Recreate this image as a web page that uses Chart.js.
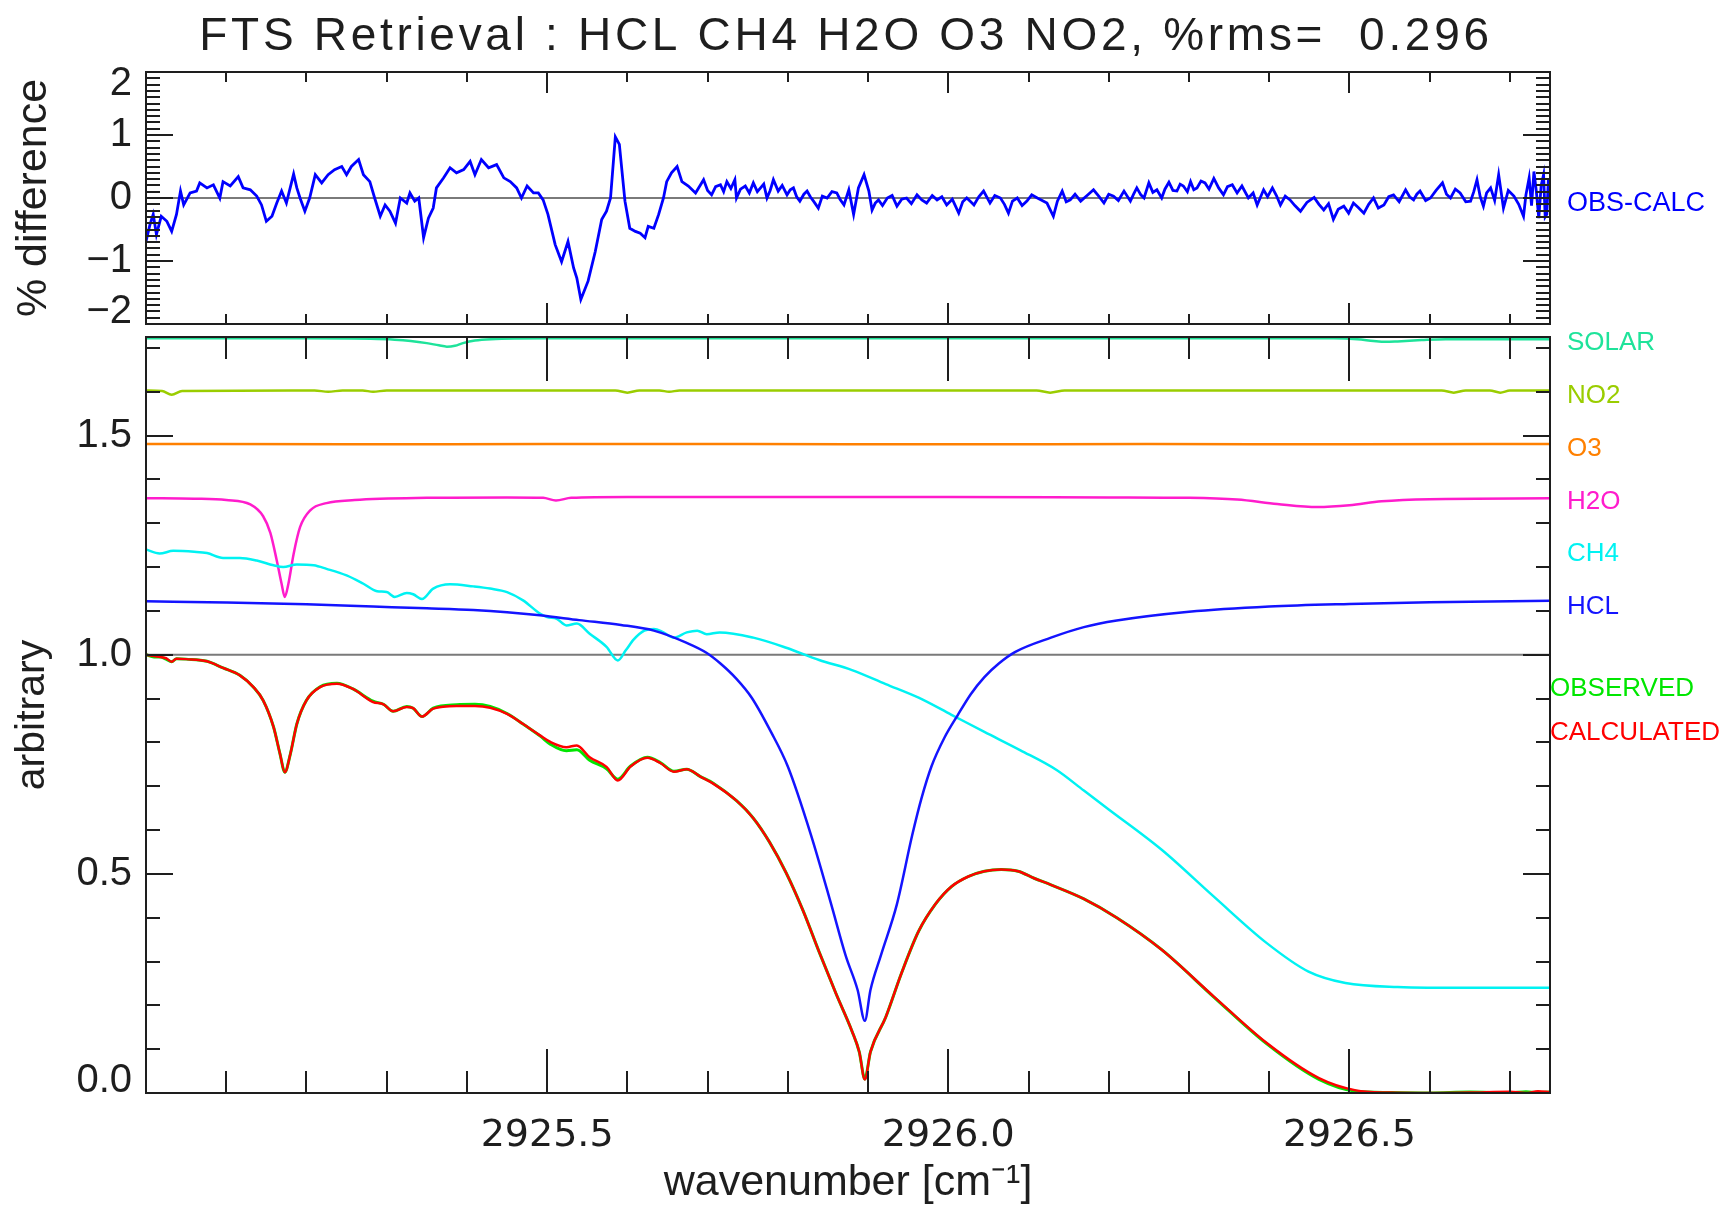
<!DOCTYPE html>
<html>
<head>
<meta charset="utf-8">
<title>FTS Retrieval</title>
<script src="https://cdn.jsdelivr.net/npm/chart.js"></script>
<style>
  html, body { margin: 0; padding: 0; background: #fff; }
  body { width: 1721px; height: 1210px; position: relative; overflow: hidden; }
  canvas { position: absolute; left: 0; }
  #diffChart { top: 0; }
  #specChart { top: 330px; }
</style>
</head>
<body>
<canvas id="diffChart" width="1721" height="350"></canvas>
<canvas id="specChart" width="1721" height="880"></canvas>
<script>
// axis limits and tick labels
const wnMin = 2925.0, wnMax = 2926.75;
const wnTicks = [2925.5, 2926.0, 2926.5];
const diffTicks = [-2, -1, 0, 1, 2];
const arbTicks = [0.0, 0.5, 1.0, 1.5];

// reference lines
const refWn = [2925.0, 2926.75];
const diffRef = [0, 0];
const specRef = [1, 1];

// OBS-CALC residual (%)
const diffWn = [
  2925.000, 2925.005, 2925.009, 2925.013, 2925.019, 2925.026, 2925.032, 2925.038, 2925.043, 2925.047,
  2925.055, 2925.063, 2925.067, 2925.076, 2925.084, 2925.092, 2925.096, 2925.105, 2925.115, 2925.121,
  2925.130, 2925.138, 2925.144, 2925.150, 2925.157, 2925.163, 2925.169, 2925.175, 2925.184, 2925.188,
  2925.192, 2925.198, 2925.204, 2925.211, 2925.219, 2925.227, 2925.235, 2925.244, 2925.250, 2925.256,
  2925.265, 2925.271, 2925.279, 2925.285, 2925.292, 2925.298, 2925.304, 2925.311, 2925.317, 2925.325,
  2925.329, 2925.335, 2925.340, 2925.346, 2925.352, 2925.358, 2925.362, 2925.371, 2925.379, 2925.387,
  2925.396, 2925.404, 2925.410, 2925.418, 2925.427, 2925.437, 2925.446, 2925.454, 2925.462, 2925.468,
  2925.475, 2925.483, 2925.489, 2925.495, 2925.501, 2925.510, 2925.518, 2925.526, 2925.533, 2925.537,
  2925.542, 2925.551, 2925.560, 2925.568, 2925.574, 2925.579, 2925.585, 2925.590, 2925.597, 2925.603,
  2925.610, 2925.616, 2925.622, 2925.626, 2925.633, 2925.639, 2925.645, 2925.649, 2925.655, 2925.662,
  2925.668, 2925.676, 2925.685,
  2925.695, 2925.700, 2925.705, 2925.710, 2925.716, 2925.720, 2925.724, 2925.729, 2925.734, 2925.736,
  2925.741, 2925.747, 2925.752, 2925.757, 2925.762, 2925.766, 2925.770, 2925.774, 2925.778, 2925.782,
  2925.788, 2925.793, 2925.799, 2925.803, 2925.807, 2925.811, 2925.815, 2925.820, 2925.824, 2925.828,
  2925.832, 2925.838, 2925.843, 2925.849, 2925.855, 2925.861, 2925.865, 2925.870, 2925.876, 2925.882,
  2925.888, 2925.895, 2925.901, 2925.905, 2925.909, 2925.913, 2925.918, 2925.924, 2925.930, 2925.936,
  2925.942, 2925.948, 2925.954, 2925.961, 2925.967, 2925.973, 2925.980, 2925.986, 2925.992, 2925.998,
  2926.005, 2926.013, 2926.018, 2926.023, 2926.028, 2926.032, 2926.038, 2926.044, 2926.052, 2926.058,
  2926.065, 2926.070, 2926.075, 2926.080, 2926.086, 2926.092, 2926.098, 2926.104, 2926.111, 2926.117,
  2926.123, 2926.131, 2926.136, 2926.142, 2926.147, 2926.152, 2926.158, 2926.165, 2926.173, 2926.181,
  2926.188, 2926.194, 2926.200, 2926.206, 2926.212, 2926.219, 2926.227, 2926.231, 2926.235, 2926.240,
  2926.244, 2926.250, 2926.255, 2926.260, 2926.266, 2926.270, 2926.275, 2926.280, 2926.285, 2926.289,
  2926.293, 2926.298, 2926.302, 2926.306, 2926.310, 2926.315, 2926.320, 2926.325, 2926.331, 2926.337,
  2926.343, 2926.348, 2926.354, 2926.360, 2926.366, 2926.374, 2926.380, 2926.385, 2926.393, 2926.398,
  2926.404, 2926.409, 2926.414, 2926.420, 2926.426, 2926.432, 2926.439, 2926.447, 2926.456, 2926.462,
  2926.468, 2926.474, 2926.480, 2926.486, 2926.493, 2926.499, 2926.505, 2926.511, 2926.518, 2926.524,
  2926.530, 2926.536, 2926.543, 2926.549, 2926.555, 2926.562, 2926.570, 2926.575, 2926.580, 2926.584,
  2926.588, 2926.595, 2926.601, 2926.608, 2926.616, 2926.621, 2926.626, 2926.632, 2926.638, 2926.645,
  2926.651, 2926.655, 2926.659, 2926.663, 2926.667, 2926.671, 2926.676, 2926.681, 2926.686, 2926.692,
  2926.698, 2926.705, 2926.711, 2926.717, 2926.720, 2926.724, 2926.727, 2926.730, 2926.733, 2926.736,
  2926.739, 2926.742, 2926.744, 2926.746, 2926.748, 2926.750
];
const diffVal = [
  -0.69, -0.42, -0.26, -0.58, -0.29, -0.37, -0.53, -0.26, 0.11, -0.11,
  0.08, 0.11, 0.24, 0.16, 0.21, 0.00, 0.26, 0.19, 0.34, 0.16,
  0.13, 0.03, -0.11, -0.37, -0.29, -0.08, 0.11, -0.08, 0.38, 0.16,
  0.00, -0.21, 0.00, 0.37, 0.24, 0.37, 0.45, 0.50, 0.37, 0.50,
  0.61, 0.37, 0.26, 0.00, -0.29, -0.11, -0.21, -0.40, 0.00, -0.08,
  0.08, -0.05, 0.00, -0.63, -0.32, -0.16, 0.16, 0.32, 0.48, 0.40,
  0.45, 0.58, 0.37, 0.61, 0.48, 0.53, 0.32, 0.26, 0.16, 0.00,
  0.19, 0.08, 0.08, -0.03, -0.26, -0.74, -1.01, -0.69, -1.11, -1.27,
  -1.61, -1.32, -0.85, -0.34, -0.21, 0.00, 0.97, 0.85, -0.05, -0.48,
  -0.53, -0.56, -0.63, -0.45, -0.48, -0.26, 0.00, 0.26, 0.40, 0.50,
  0.26, 0.19, 0.08,
  0.29, 0.12, 0.05, 0.18, 0.21, 0.10, 0.26, 0.15, 0.29, 0.00,
  0.14, 0.19, 0.08, 0.24, 0.10, 0.16, 0.22, 0.00, 0.12, 0.29,
  0.11, 0.20, 0.05, 0.13, 0.16, 0.02, -0.05, 0.06, 0.11, 0.02,
  -0.05, -0.16, 0.03, 0.00, 0.10, 0.08, -0.02, -0.11, 0.13, -0.26,
  0.16, 0.37, 0.11, -0.19, -0.08, -0.03, -0.12, 0.00, 0.04, -0.13,
  -0.02, 0.00, -0.09, 0.05, -0.03, -0.08, 0.04, -0.03, 0.02, -0.11,
  -0.02, -0.24, -0.06, 0.00, -0.06, -0.11, 0.02, 0.11, -0.08, 0.04,
  0.00, -0.10, -0.24, -0.05, 0.00, -0.12, -0.05, 0.05, 0.00, -0.04,
  -0.08, -0.29, -0.05, 0.11, -0.06, -0.03, 0.06, -0.05, 0.04, 0.13,
  0.02, -0.08, 0.06, 0.03, -0.04, 0.11, -0.05, 0.06, 0.16, 0.05,
  0.00, 0.24, 0.09, 0.13, 0.00, 0.14, 0.25, 0.12, 0.11, 0.22,
  0.19, 0.10, 0.26, 0.13, 0.16, 0.27, 0.24, 0.14, 0.31, 0.16,
  0.05, 0.18, 0.21, 0.08, 0.19, 0.00, 0.08, -0.11, 0.13, 0.02,
  0.16, 0.04, -0.11, 0.03, -0.03, -0.12, -0.21, -0.07, 0.01, -0.10,
  -0.19, -0.09, -0.34, -0.18, -0.13, -0.24, -0.08, -0.15, -0.24, -0.10,
  0.00, -0.16, -0.11, 0.02, 0.05, -0.06, 0.13, 0.02, -0.03, 0.06,
  0.11, -0.04, 0.00, 0.12, 0.24, 0.06, 0.00, 0.14, 0.08, -0.06,
  -0.05, 0.10, 0.29, 0.02, -0.13, 0.08, 0.16, -0.04, 0.37, -0.16,
  0.12, 0.03, -0.10, -0.29, 0.05, 0.32, -0.12, 0.42, 0.10, -0.32,
  0.20, 0.37, -0.30, -0.26, 0.30, 0.11
];

// component transmittances (offset for display)
const solarWn = [2925.000, 2925.100, 2925.200, 2925.280, 2925.310, 2925.330, 2925.350, 2925.365, 2925.375, 2925.385,
  2925.395, 2925.410, 2925.430, 2925.500, 2925.700, 2925.900, 2926.100, 2926.300, 2926.480, 2926.510,
  2926.530, 2926.545, 2926.560, 2926.590, 2926.620, 2926.750];
const solarVal = [1.722, 1.722, 1.722, 1.721, 1.719, 1.716, 1.711, 1.706, 1.703, 1.705,
  1.711, 1.717, 1.720, 1.722, 1.722, 1.722, 1.722, 1.722, 1.722, 1.720,
  1.716, 1.714, 1.715, 1.718, 1.720, 1.720];

const no2Wn = [2925.000, 2925.020, 2925.032, 2925.045, 2925.210, 2925.227, 2925.245, 2925.270, 2925.283, 2925.300,
  2925.585, 2925.600, 2925.615, 2925.640, 2925.652, 2925.665, 2926.110, 2926.127, 2926.145, 2926.615,
  2926.630, 2926.645, 2926.675, 2926.688, 2926.700, 2926.750];
const no2Val = [1.603, 1.602, 1.593, 1.602, 1.603, 1.600, 1.603, 1.603, 1.600, 1.603,
  1.603, 1.598, 1.603, 1.603, 1.600, 1.603, 1.603, 1.598, 1.603, 1.603,
  1.598, 1.603, 1.603, 1.598, 1.603, 1.603];

const o3Wn = [2925.00, 2925.25, 2925.50, 2925.75, 2926.00, 2926.25, 2926.50, 2926.75];
const o3Val = [1.481, 1.480, 1.481, 1.481, 1.480, 1.481, 1.480, 1.481];

const h2oWn = [2925.000, 2925.060, 2925.100, 2925.130, 2925.146, 2925.155, 2925.163, 2925.169, 2925.173, 2925.1775,
  2925.184, 2925.192, 2925.205, 2925.225, 2925.260, 2925.350, 2925.450, 2925.495, 2925.511, 2925.530,
  2925.600, 2925.800, 2926.000, 2926.200, 2926.300, 2926.360, 2926.410, 2926.460, 2926.500, 2926.540,
  2926.600, 2926.750];
const h2oVal = [1.357, 1.356, 1.353, 1.343, 1.316, 1.278, 1.215, 1.162, 1.132, 1.162,
  1.230, 1.291, 1.330, 1.346, 1.353, 1.358, 1.359, 1.358, 1.352, 1.358,
  1.360, 1.360, 1.360, 1.359, 1.358, 1.354, 1.344, 1.337, 1.341, 1.350,
  1.355, 1.357];

const ch4Wn = [2925.000, 2925.017, 2925.034, 2925.060, 2925.076, 2925.096, 2925.117, 2925.138, 2925.159, 2925.171,
  2925.188, 2925.209, 2925.225, 2925.250, 2925.271, 2925.288, 2925.300, 2925.310, 2925.325, 2925.333,
  2925.344, 2925.358, 2925.379, 2925.408, 2925.429, 2925.450, 2925.470, 2925.491, 2925.500, 2925.512,
  2925.524, 2925.537, 2925.553, 2925.574, 2925.588, 2925.598, 2925.608, 2925.621, 2925.633, 2925.645,
  2925.658, 2925.674, 2925.687, 2925.699, 2925.715, 2925.757, 2925.798, 2925.839, 2925.880, 2925.922,
  2925.963, 2926.004, 2926.045, 2926.090, 2926.135, 2926.169, 2926.200, 2926.266, 2926.331, 2926.397,
  2926.449, 2926.495, 2926.560, 2926.650, 2926.750];
const ch4Val = [1.240, 1.231, 1.237, 1.235, 1.232, 1.221, 1.221, 1.215, 1.204, 1.200,
  1.206, 1.204, 1.196, 1.181, 1.162, 1.145, 1.143, 1.132, 1.141, 1.138,
  1.127, 1.151, 1.161, 1.156, 1.151, 1.143, 1.124, 1.094, 1.086, 1.082,
  1.067, 1.071, 1.048, 1.018, 0.987, 1.010, 1.035, 1.055, 1.059, 1.051,
  1.039, 1.051, 1.055, 1.047, 1.051, 1.039, 1.016, 0.988, 0.965, 0.933,
  0.902, 0.863, 0.824, 0.782, 0.737, 0.690, 0.647, 0.555, 0.448, 0.342,
  0.277, 0.251, 0.242, 0.240, 0.240];

const hclWn = [2925.000, 2925.100, 2925.200, 2925.283, 2925.350, 2925.408, 2925.450, 2925.491, 2925.540, 2925.592,
  2925.633, 2925.674, 2925.699, 2925.716, 2925.736, 2925.755, 2925.779, 2925.800, 2925.829, 2925.854,
  2925.872, 2925.887, 2925.896, 2925.903, 2925.916, 2925.936, 2925.955, 2925.967, 2925.979, 2925.995,
  2926.012, 2926.028, 2926.045, 2926.063, 2926.083, 2926.128, 2926.169, 2926.210, 2926.300, 2926.400,
  2926.500, 2926.600, 2926.750];
const hclVal = [1.122, 1.119, 1.115, 1.110, 1.106, 1.102, 1.097, 1.090, 1.079, 1.068,
  1.055, 1.027, 1.004, 0.980, 0.945, 0.902, 0.824, 0.745, 0.588, 0.431,
  0.314, 0.235, 0.165, 0.235, 0.314, 0.431, 0.588, 0.675, 0.745, 0.810,
  0.863, 0.910, 0.949, 0.980, 1.006, 1.039, 1.063, 1.078, 1.098, 1.110,
  1.116, 1.120, 1.123];

// observed and calculated spectra
const specWn = [2925.000, 2925.010, 2925.018, 2925.025, 2925.032, 2925.038, 2925.050, 2925.076, 2925.096, 2925.117,
  2925.134, 2925.146, 2925.159, 2925.167, 2925.173, 2925.180, 2925.188, 2925.200, 2925.217, 2925.238,
  2925.258, 2925.283, 2925.296, 2925.308, 2925.325, 2925.333, 2925.344, 2925.358, 2925.387, 2925.410,
  2925.429, 2925.450, 2925.470, 2925.491, 2925.504, 2925.524, 2925.537, 2925.553, 2925.574, 2925.588,
  2925.604, 2925.625, 2925.641, 2925.658, 2925.674, 2925.691, 2925.707, 2925.736, 2925.757, 2925.777,
  2925.798, 2925.819, 2925.839, 2925.860, 2925.880, 2925.889, 2925.896, 2925.903, 2925.922, 2925.942,
  2925.963, 2925.984, 2926.004, 2926.025, 2926.045, 2926.066, 2926.087, 2926.107, 2926.128, 2926.169,
  2926.210, 2926.266, 2926.331, 2926.397, 2926.462, 2926.508, 2926.550, 2926.600, 2926.650, 2926.700,
  2926.720, 2926.735, 2926.750];
const observedVal = [1.000, 0.995, 0.995, 0.990, 0.984, 0.991, 0.990, 0.985, 0.970, 0.953,
  0.926, 0.896, 0.835, 0.774, 0.732, 0.774, 0.842, 0.896, 0.927, 0.935,
  0.922, 0.894, 0.887, 0.871, 0.882, 0.878, 0.859, 0.878, 0.886, 0.887,
  0.882, 0.866, 0.842, 0.815, 0.796, 0.781, 0.783, 0.759, 0.740, 0.716,
  0.746, 0.766, 0.754, 0.734, 0.739, 0.722, 0.707, 0.667, 0.627, 0.573,
  0.502, 0.416, 0.322, 0.227, 0.141, 0.094, 0.032, 0.094, 0.173, 0.275,
  0.369, 0.431, 0.471, 0.494, 0.506, 0.510, 0.506, 0.490, 0.475, 0.443,
  0.400, 0.327, 0.219, 0.112, 0.031, 0.004, 0.001, 0.000, 0.002, 0.000,
  0.003, 0.001, 0.002];
const calculatedVal = [1.000, 0.997, 0.995, 0.992, 0.984, 0.991, 0.990, 0.985, 0.970, 0.953,
  0.926, 0.896, 0.835, 0.774, 0.732, 0.774, 0.842, 0.896, 0.926, 0.934,
  0.922, 0.892, 0.887, 0.871, 0.881, 0.878, 0.859, 0.877, 0.883, 0.883,
  0.879, 0.865, 0.842, 0.816, 0.801, 0.789, 0.793, 0.766, 0.744, 0.713,
  0.745, 0.765, 0.753, 0.733, 0.739, 0.722, 0.706, 0.667, 0.627, 0.573,
  0.502, 0.416, 0.322, 0.227, 0.141, 0.094, 0.031, 0.094, 0.173, 0.275,
  0.369, 0.431, 0.471, 0.494, 0.506, 0.510, 0.506, 0.490, 0.475, 0.443,
  0.400, 0.327, 0.220, 0.114, 0.034, 0.006, 0.001, 0.000, 0.001, 0.003,
  0.000, 0.004, 0.002];

const FONT = "'Liberation Sans', Arial, sans-serif";
const NUM_FONT = "'DejaVu Sans', sans-serif";
const INK = '#1e1e1e';

const pts = (xs, ys) => xs.map((x, i) => ({ x: x, y: ys[i] }));

function curve(label, xs, ys, color, width) {
  return {
    label: label,
    data: pts(xs, ys),
    borderColor: color,
    borderWidth: width || 2.5,
    pointRadius: 0,
    fill: false,
    cubicInterpolationMode: 'monotone'
  };
}

// IDL-style box with inward ticks on all four sides
const idlAxes = {
  id: 'idlAxes',
  afterDatasetsDraw(chart, args, o) {
    const { ctx, chartArea: a, scales: { x, y } } = chart;
    ctx.save();
    ctx.strokeStyle = INK;
    ctx.lineWidth = 2;
    ctx.beginPath();
    for (let k = 1; wnMin + k * 0.1 < wnMax; k++) {
      const v = wnMin + k * 0.1;
      const len = wnTicks.some(t => Math.abs(t - v) < 1e-6) ? o.xMajor : o.xMinor;
      const px = Math.round(x.getPixelForValue(v));
      ctx.moveTo(px, a.bottom); ctx.lineTo(px, a.bottom - len);
      ctx.moveTo(px, a.top); ctx.lineTo(px, a.top + len);
    }
    for (let k = 0; y.min + k * o.yStep <= y.max + 1e-9; k++) {
      const v = y.min + k * o.yStep;
      const len = o.yMajorTicks.some(t => Math.abs(t - v) < 1e-6) ? o.yMajor : o.yMinor;
      const py = Math.round(y.getPixelForValue(v));
      ctx.moveTo(a.left, py); ctx.lineTo(a.left + len, py);
      ctx.moveTo(a.right, py); ctx.lineTo(a.right - len, py);
    }
    ctx.stroke();
    ctx.strokeRect(a.left, a.top, a.right - a.left, a.bottom - a.top);
    ctx.restore();
  }
};

// coloured species names to the right of the plot, plus optional figure title
const sideLabels = {
  id: 'sideLabels',
  afterDraw(chart, args, o) {
    const { ctx, chartArea: a } = chart;
    ctx.save();
    ctx.textBaseline = 'middle';
    ctx.textAlign = 'left';
    ctx.font = o.size + 'px ' + FONT;
    o.items.forEach(it => {
      ctx.fillStyle = it.color;
      ctx.fillText(it.text, a.right + it.dx, a.top + it.dy);
    });
    if (o.title) {
      ctx.font = o.title.size + 'px ' + FONT;
      ctx.fillStyle = INK;
      ctx.textAlign = 'center';
      ctx.textBaseline = 'alphabetic';
      if ('letterSpacing' in ctx) ctx.letterSpacing = o.title.spacing + 'px';
      ctx.fillText(o.title.text, o.title.x, o.title.y);
    }
    ctx.restore();
  }
};

const baseOptions = {
  responsive: false,
  animation: false,
  events: [],
  plugins: { legend: { display: false }, tooltip: { enabled: false } }
};

// IDL nudges the end labels inside the box: an empty second line does the same here
function yAxis(min, max, ticks, fmt, title, titleSize) {
  return {
    type: 'linear',
    min: min,
    max: max,
    afterBuildTicks: s => { s.ticks = ticks.map(v => ({ value: v })); },
    grid: { display: false, drawTicks: false },
    border: { display: false },
    ticks: {
      font: { family: FONT, size: 40, lineHeight: 0.62 },
      color: INK,
      padding: 14,
      callback: v => {
        const t = fmt(v);
        if (v === max || v === ticks[ticks.length - 1] && v === max) return ['', t];
        if (v === min) return [t, ''];
        return t;
      }
    },
    title: { display: true, text: title, color: INK, font: { family: FONT, size: titleSize }, padding: { top: 8, bottom: 0 } },
    afterFit: s => { s.width = 146; s.paddingTop = 0; s.paddingBottom = 0; }
  };
}

// top panel: residual
new Chart(document.getElementById('diffChart'), {
  type: 'line',
  data: {
    datasets: [
      Object.assign(curve('OBS-CALC', diffWn, diffVal, '#0000ff', 2.8), { cubicInterpolationMode: 'default', tension: 0 }),
      curve('zero', refWn, diffRef, '#7a7a7a', 2)
    ]
  },
  options: Object.assign({}, baseOptions, {
    layout: { padding: { left: 0, right: 171, top: 72, bottom: 0 } },
    plugins: Object.assign({}, baseOptions.plugins, {
      idlAxes: { xMajor: 21, xMinor: 10, yStep: 0.1, yMajorTicks: diffTicks, yMajor: 27, yMinor: 14 },
      sideLabels: {
        size: 27,
        items: [{ text: 'OBS-CALC', color: '#0000ff', dx: 17, dy: 132 }],
        title: { text: 'FTS Retrieval : HCL CH4 H2O O3 NO2, %rms=  0.296', size: 46, spacing: 3.7, x: 846, y: 50 }
      }
    }),
    scales: {
      x: {
        type: 'linear', min: wnMin, max: wnMax,
        grid: { display: false, drawTicks: false },
        border: { display: false },
        ticks: { display: false },
        afterFit: s => { s.height = 26; s.paddingLeft = 0; s.paddingRight = 0; }
      },
      y: yAxis(-2, 2, diffTicks, v => (v < 0 ? '\u2212' + Math.abs(v) : String(v)), '% difference', 43)
    }
  }),
  plugins: [idlAxes, sideLabels]
});

// bottom panel: spectra
new Chart(document.getElementById('specChart'), {
  type: 'line',
  data: {
    datasets: [
      curve('CALCULATED', specWn, calculatedVal, '#ff0000'),
      curve('OBSERVED', specWn, observedVal, '#00e600', 3),
      curve('HCL', hclWn, hclVal, '#1414ff'),
      curve('CH4', ch4Wn, ch4Val, '#00f2f2'),
      curve('H2O', h2oWn, h2oVal, '#ff1ccc'),
      curve('O3', o3Wn, o3Val, '#ff8000'),
      curve('NO2', no2Wn, no2Val, '#9acd00'),
      curve('SOLAR', solarWn, solarVal, '#1ee39a'),
      curve('unity', refWn, specRef, '#7a7a7a', 2)
    ]
  },
  options: Object.assign({}, baseOptions, {
    layout: { padding: { left: 0, right: 171, top: 7, bottom: 0 } },
    plugins: Object.assign({}, baseOptions.plugins, {
      idlAxes: { xMajor: 44, xMinor: 22, yStep: 0.1, yMajorTicks: arbTicks, yMajor: 27, yMinor: 14 },
      sideLabels: {
        size: 26,
        items: [
          { text: 'SOLAR', color: '#1ee39a', dx: 17, dy: 6 },
          { text: 'NO2', color: '#9acd00', dx: 17, dy: 59 },
          { text: 'O3', color: '#ff8000', dx: 17, dy: 112 },
          { text: 'H2O', color: '#ff1ccc', dx: 17, dy: 165 },
          { text: 'CH4', color: '#00f2f2', dx: 17, dy: 217 },
          { text: 'HCL', color: '#1414ff', dx: 17, dy: 270 },
          { text: 'OBSERVED', color: '#00e600', dx: 0, dy: 352 },
          { text: 'CALCULATED', color: '#ff0000', dx: 0, dy: 396 }
        ]
      }
    }),
    scales: {
      x: {
        type: 'linear', min: wnMin, max: wnMax,
        afterBuildTicks: s => { s.ticks = wnTicks.map(v => ({ value: v })); },
        grid: { display: false, drawTicks: false },
        border: { display: false },
        ticks: { font: { family: NUM_FONT, size: 38 }, color: INK, padding: 20, maxRotation: 0, autoSkip: false, callback: v => v.toFixed(1) },
        title: { display: true, text: 'wavenumber [cm\u207B\u00B9]', color: INK, font: { family: FONT, size: 43 }, padding: { top: 0, bottom: 1 } },
        afterFit: s => { s.height = 117; s.paddingLeft = 0; s.paddingRight = 0; }
      },
      y: yAxis(0, 1.725, arbTicks, v => v.toFixed(1), 'arbitrary', 41)
    }
  }),
  plugins: [idlAxes, sideLabels]
});
</script>
</body>
</html>
